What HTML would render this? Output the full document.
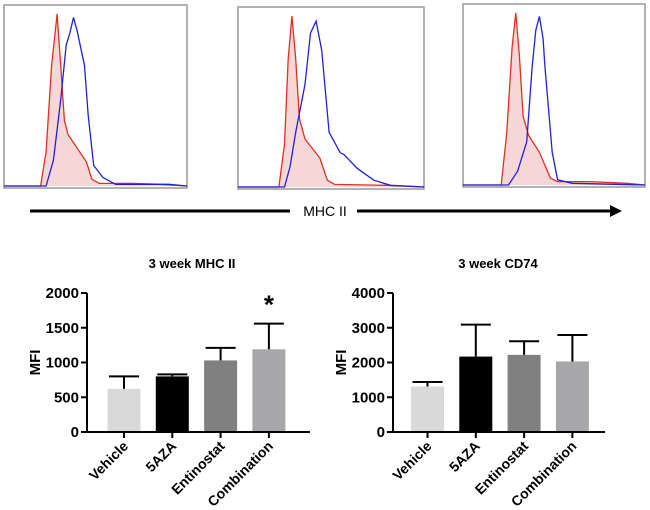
<!DOCTYPE html>
<html><head><meta charset="utf-8"><style>
body{margin:0;background:#fff;}
svg{display:block;font-family:"Liberation Sans",sans-serif;}
</style></head><body>
<svg id="fig" width="650" height="510">
<g id="hists"></g>
<g>
<line x1="30" y1="211" x2="290" y2="211" stroke="#000" stroke-width="3"/>
<text x="325" y="216" text-anchor="middle" font-size="14">MHC II</text>
<line x1="357" y1="211" x2="612" y2="211" stroke="#000" stroke-width="3"/>
<polygon points="622,211 610,205 610,217" fill="#000"/>
</g>
<g id="bars1"></g>
<g id="bars2"></g>
</svg>
<script>
// histogram data: [intensity fraction, relative count]
const red1=[[0,0],[0.2,0],[0.23,0.2],[0.26,0.7],[0.29,1],[0.31,0.7],[0.33,0.38],[0.35,0.3],[0.40,0.22],[0.45,0.14],[0.48,0.04],[0.52,0.015],[0.7,0.015],[0.85,0.01],[1,0]];
const blue1=[[0,0],[0.23,0],[0.27,0.15],[0.31,0.5],[0.34,0.82],[0.36,0.89],[0.38,0.98],[0.40,0.9],[0.44,0.7],[0.46,0.41],[0.49,0.12],[0.54,0.05],[0.61,0.01],[0.9,0.01],[1,0]];
const red2=[[0,0],[0.22,0],[0.25,0.25],[0.27,0.75],[0.29,1],[0.31,0.75],[0.33,0.4],[0.36,0.28],[0.44,0.17],[0.48,0.04],[0.52,0.015],[0.8,0.01],[1,0]];
const blue2=[[0,0],[0.25,0],[0.28,0.12],[0.31,0.32],[0.36,0.6],[0.39,0.9],[0.42,0.97],[0.45,0.8],[0.49,0.32],[0.55,0.2],[0.57,0.19],[0.64,0.11],[0.73,0.04],[0.82,0.01],[1,0]];
const red3=[[0,0],[0.21,0],[0.24,0.3],[0.27,0.8],[0.29,1],[0.31,0.75],[0.33,0.4],[0.36,0.29],[0.42,0.19],[0.48,0.04],[0.52,0.02],[0.7,0.02],[0.9,0.01],[1,0]];
const blue3=[[0,0],[0.25,0],[0.30,0.08],[0.35,0.25],[0.38,0.69],[0.40,0.9],[0.42,0.98],[0.44,0.85],[0.45,0.69],[0.49,0.19],[0.52,0.03],[0.6,0.01],[1,0]];
const panels=[{x:4,y:5,w:183,h:183,r:red1,b:blue1},{x:238,y:7,w:186,h:182,r:red2,b:blue2},{x:463,y:4,w:182,h:183,r:red3,b:blue3}];
const NS="http://www.w3.org/2000/svg";
function mk(t,a,p){const e=document.createElementNS(NS,t);for(const k in a)e.setAttribute(k,a[k]);p.appendChild(e);return e;}
const hg=document.getElementById('hists');
panels.forEach((p,i)=>{
  const g=mk('g',{},hg);
  
  
  const rect=mk('rect',{x:p.x,y:p.y,width:p.w,height:p.h,fill:'#fff',stroke:'#999','stroke-width':1.5},g);
  
  
  const base=p.y+p.h-2, top=p.y+9;
  const sx=v=>p.x+v*p.w, sy=v=>base-v*(base-top);
  const pts=a=>a.map(d=>sx(d[0]).toFixed(1)+','+sy(d[1]).toFixed(1)).join(' L');
  const fill=mk('path',{d:'M'+pts(p.r)+' Z',fill:'#f4cccc',opacity:0.8},g);
  
  
  const rl=mk('path',{d:'M'+pts(p.r),fill:'none',stroke:'#e03020','stroke-width':1.3},g);
  
  
  const bl=mk('path',{d:'M'+pts(p.b),fill:'none',stroke:'#2020e0','stroke-width':1.3},g);
  
  
});

// bar chart data
const categories=['Vehicle','5AZA','Entinostat','Combination'];
const mhcValues=[620,800,1030,1190];
const mhcErrTop=[800,830,1210,1560];
const mhcTicks=[0,500,1000,1500,2000];
const cd74Values=[1310,2170,2220,2030];
const cd74ErrTop=[1440,3090,2610,2790];
const cd74Ticks=[0,1000,2000,3000,4000];
const colors=['#d9d9d9','#000000','#808080','#a7a7aa'];

function barChart(gid,cfg){
  const g=document.getElementById(gid);
  const y0=432,y1=293,ax=cfg.ax,xend=cfg.xend,max=cfg.ticks[cfg.ticks.length-1];
  const sy=v=>y0-v/max*(y0-y1);
  const sx=i=>cfg.first+i*cfg.step;
  const t=mk('text',{x:cfg.tx,y:268,'text-anchor':'middle','font-size':13,'font-weight':'bold'},g);
  t.textContent=cfg.title;
  
  
  const yt=mk('text',{transform:`translate(${ax-47},${(y0+y1)/2}) rotate(-90)`,'text-anchor':'middle','font-size':15,'font-weight':'bold'},g);
  yt.textContent='MFI';
  
  
  cfg.vals.forEach((v,i)=>{
    const cx=sx(i);
    const b=mk('rect',{x:cx-16.5,y:sy(v),width:33,height:y0-sy(v),fill:colors[i]},g);
    
    
    const e=mk('path',{d:`M${cx},${sy(v)} V${sy(cfg.err[i])} M${cx-15},${sy(cfg.err[i])} H${cx+15}`,stroke:'#000','stroke-width':2,fill:'none'},g);
    
    
    const tk=mk('line',{x1:cx,y1:y0,x2:cx,y2:y0+6,stroke:'#000','stroke-width':2},g);
    
    
    const l=mk('text',{transform:`translate(${cx+5},${y0+15}) rotate(-45)`,'text-anchor':'end','font-size':14,'font-weight':'bold'},g);
    l.textContent=categories[i];
    
    
  });
  cfg.ticks.forEach(v=>{
    const tk=mk('line',{x1:ax-6,y1:sy(v),x2:ax,y2:sy(v),stroke:'#000','stroke-width':2},g);
    
    
    const tl=mk('text',{x:ax-8,y:sy(v)+5,'text-anchor':'end','font-size':15,'font-weight':'bold'},g);
    tl.textContent=v;
    
    
  });
  const axes=mk('path',{d:`M${ax},${y1} V${y0} H${xend}`,stroke:'#000','stroke-width':2,fill:'none'},g);
  
  
  if(cfg.star!==undefined){
    const s=mk('text',{x:sx(cfg.star),y:sy(cfg.err[cfg.star])-10,'text-anchor':'middle','font-size':26,'font-weight':'bold'},g);
    s.textContent='*';
    
    
  }
}
barChart('bars1',{title:'3 week MHC II',tx:192,ax:87,xend:310,first:124,step:48.3,vals:mhcValues,err:mhcErrTop,ticks:mhcTicks,star:3});
barChart('bars2',{title:'3 week CD74',tx:498,ax:393,xend:605,first:427.5,step:48.3,vals:cd74Values,err:cd74ErrTop,ticks:cd74Ticks});
</script>
</body></html>
